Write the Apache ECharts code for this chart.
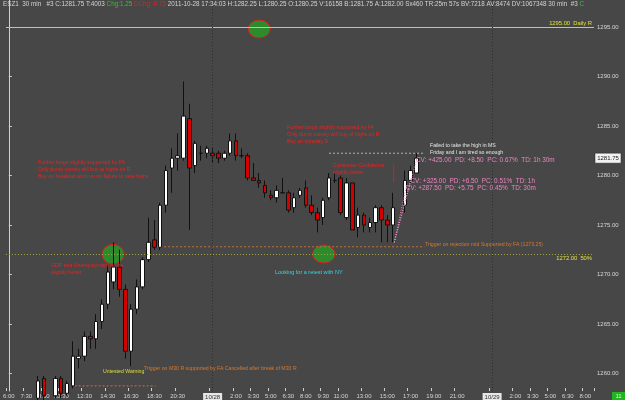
<!DOCTYPE html>
<html><head><meta charset="utf-8">
<script src="https://cdn.jsdelivr.net/npm/echarts@6/dist/echarts.min.js"></script>
<style>html,body{margin:0;padding:0;background:#474747;}#c{width:625px;height:400px;}</style>
</head><body><div id="c"></div>
<script>
// ---- categories (30 min slots) ----
const categories = [];
function pushDay(d, fromMin, toMin){ for(let m=fromMin;m<=toMin;m+=30){ categories.push(d+' '+Math.floor(m/60)+':'+(m%60===0?'00':'30')); } }
pushDay('10/27', 360, 1380);
pushDay('10/28', 0, 1410);
pushDay('10/29', 0, 510);

const tickLabels = ['10/27 6:00','10/27 7:30','10/27 9:00','10/27 10:30','10/27 12:30','10/27 14:30','10/27 16:30','10/27 18:30','10/27 20:30',
 '10/28 0:00','10/28 2:00','10/28 3:30','10/28 5:00','10/28 6:30','10/28 8:00','10/28 9:30','10/28 11:00','10/28 13:00','10/28 15:00','10/28 17:00','10/28 19:00','10/28 21:00',
 '10/29 0:00','10/29 2:00','10/29 3:30','10/29 5:00','10/29 6:30','10/29 8:00'];
const priceTicks = [1260,1265,1270,1275,1280,1285,1290,1295];

// ---- OHLC (index = slot) ----
const openP  = [null,null,null,null,null,1257.5,1259.5,null,1257.75,1259.5,1258,1258.75,1261.5,1261.75,1263.75,1263.5,1265.25,1267,1269.25,1270.75,1268.5,1262.25,1266.5,1268.75,1271.5,1273.5,1272.75,1277,1280.75,1281.75,1281.75,1285.75,1281,1282.25,1282.25,1282.25,1282.25,1281.75,1282.25,1283.5,1282,1282,1279.75,1279.5,1279,1278,1277.75,1278.25,1278.25,1276.75,1278,1278.75,1277,1276.25,1275.75,1277.75,1279.5,1279.75,1275.75,1279.25,1274.75,1276,1274.75,1275.25,1276.75,1275.5,1275,null,1277,1279.5,1280.25];
const highP  = [null,null,null,null,null,1259.75,1259.75,null,1259.75,1259.75,1259.25,1263.25,1262.5,1264.25,1264.25,1266,1267.5,1271,1273.25,1272.5,1269,1267,1269.5,1271.75,1275.75,1275.5,1277.25,1281,1282.75,1284.25,1289.5,1287.25,1283.5,1283,1283,1282.75,1282.5,1282.5,1284.25,1284.25,1282.75,1282.25,1281.25,1280.25,1279.5,1278.5,1279,1279.75,1278.5,1278.25,1278.75,1279.5,1278,1276.75,1277.75,1280.25,1280.25,1280,1279.75,1279.25,1276.75,1276.25,1275.75,1277,1277,1276,1278.25,null,1280.5,1281,1282.25];
const lowP   = [null,null,null,null,null,1257,1257,null,1257.5,1257.5,1257.75,1258.5,1260.5,1261.25,1262.5,1262.5,1264.5,1266.5,1268.5,1267.75,1261.5,1260.75,1266,1268.5,1271.25,1272.5,1272.5,1276.25,1278.25,1280.5,1281.5,1274.5,1280.25,1281.5,1281.75,1281.25,1281.25,1281.5,1282,1281.5,1281.75,1279.5,1279.5,1278.75,1277.75,1277.5,1277.25,1278.25,1276.25,1276.25,1277.75,1276.75,1276,1274.25,1275,1277.5,1279.25,1276,1275.5,1274.5,1273.75,1274.25,1274.25,1274.25,1273.25,1273.25,1273.25,null,1276.25,1279.25,1280.25];
const closeP = [null,null,null,null,null,1259.25,1257.75,null,1259.5,1258,1259,1261.75,1261.75,1263.75,1263.5,1265.25,1267,1270.25,1270.75,1268.5,1262.25,1266.5,1268.75,1271.5,1273.25,1272.75,1277,1280.5,1281.75,1282,1286,1280.75,1283.25,1282.25,1282.75,1282,1281.75,1282.25,1283.5,1282,1282,1279.75,1279.5,1279.25,1278.25,1277.75,1278.5,1278.25,1276.5,1277.75,1278.5,1277,1276.25,1275.5,1277.5,1279.75,1279.5,1276.25,1279.25,1274.5,1276,1275,1275.25,1276.75,1275.5,1275,1276.75,null,1279.5,1280.5,1281.75];

// ---- drawn levels / objects (data space: slot, price) ----
const dailyR = 1295, midLevel = 1272;
const triggerMid = [[25.3,1272.8],[71.4,1272.8]];
const triggerM30 = [[11.3,1258.75],[25.2,1258.75]];
const highLine = [[55,1282.25],[71.4,1282.25]];
const fanFrom = [66.2,1273.25];
const fanTo = [[68.3,1279.0],[69.1,1279.75],[70.1,1281.75]];
const redMark = [[66.1,1281.1],[66.1,1279.35]];
const ellipses = [[43,1294.8,11,9],[17.9,1272.05,11,9.8],[54.1,1272.07,11.3,9]];

const FONT = '"Liberation Sans", Arial, sans-serif';
const chart = echarts.init(document.getElementById('c'));
const candleData = openP.map((o,i)=> o==null ? '-' : [o, closeP[i], lowP[i], highP[i]]);
const showSet = new Set(tickLabels);
const YMIN = 1295 - 364/9.9, YMAX = 1295 + 27/9.9;

function seg(data, color, type, z){
  return {type:'line', xAxisIndex:1, yAxisIndex:0, data:data, symbol:'none', silent:true, animation:false, z:z||3,
    lineStyle:{color:color, width:1, type:type}};
}
const series = [{
  type:'candlestick', data:candleData, barWidth:4, animation:false, z:4,
  itemStyle:{color:'#ffffff', color0:'#d40000', borderColor:'#111111', borderColor0:'#111111', borderWidth:1},
  markLine:{symbol:'none', silent:true, animation:false, label:{show:false},
    data:[
      {yAxis:dailyR, lineStyle:{color:'#d2d22e', type:'solid', width:1}},
      {yAxis:midLevel, lineStyle:{color:'#a8a848', type:[1,2], width:1}},
      {xAxis:categories[35], lineStyle:{color:'#2e2e2e', type:[1,2], width:1}},
      {xAxis:categories[83], lineStyle:{color:'#2e2e2e', type:[1,2], width:1}}
    ]}
},
 seg(triggerMid,'#c8703a',[2,2]),
 seg(triggerM30,'#c8703a',[2,2]),
 seg(highLine,'#b4b4b4',[2,2]),
 seg(redMark,'#e01c1c','solid',5)
];
fanTo.forEach(p=>series.push(seg([fanFrom,p],'#e68cc4',[1,1.5],5)));

chart.setOption({
  backgroundColor:'#474747',
  animation:false,
  grid:{left:3, right:31, top:0, bottom:9},
  xAxis:[{type:'category', data:categories, boundaryGap:true,
    axisLine:{show:false},
    axisTick:{show:true, interval:(i,v)=>showSet.has(v), length:3, inside:true, lineStyle:{color:'#cfcfcf'}},
    axisLabel:{interval:(i,v)=>showSet.has(v), fontSize:6, fontFamily:FONT, color:'#d6d6d6', margin:2,
      formatter:v=>{const t=v.split(' '); return t[1]==='0:00' ? '{d|'+t[0]+'}' : t[1];},
      rich:{d:{backgroundColor:'#e6e6e6', color:'#333333', fontSize:6, fontFamily:FONT, padding:[1,2,0,2]}}},
    splitLine:{show:false}},
   {type:'value', min:-0.5, max:100.5, show:false}],
  yAxis:{type:'value', position:'right', min:YMIN, max:YMAX, scale:true,
    axisLine:{show:true, lineStyle:{color:'#d0d0d0'}},
    axisTick:{show:true, length:3, customValues:priceTicks, lineStyle:{color:'#d0d0d0'}},
    axisLabel:{customValues:priceTicks, fontSize:6, fontFamily:FONT, color:'#d6d6d6', margin:3, formatter:v=>v.toFixed(2)},
    splitLine:{show:false}},
  series:series
});

function px(v,p){ return chart.convertToPixel({xAxisIndex:1, yAxisIndex:0},[v,p]); }
const g = [];
ellipses.forEach(e=>{ const c=px(e[0],e[1]); g.push({type:'ellipse', z:1, shape:{cx:c[0],cy:c[1],rx:e[2],ry:e[3]}, style:{fill:'#2d8a2d', stroke:'#e01818', lineWidth:1}}); });
function txt(x,y,lines,size,color,lh,align){
  g.push({type:'text', z:20, style:{x:x, y:y, text:lines.join('\n'), fill:color, fontSize:size, fontFamily:FONT, lineHeight:lh||7, textAlign:align||'left', textVerticalAlign:'top'}});
}
// header
g.push({type:'text', z:20, style:{x:3, y:4, textVerticalAlign:'middle', fontSize:6.3, fontFamily:FONT, fill:'#d4d4d4',
  text:'{a|ESZ1  30 min   #3 C:1281.75 T:4003 }{g|Chg:1.25} {r|DChg:-0.75}{a| 2011-10-28 17:34:03 H:1282.25 L:1280.25 O:1280.25 V:16158 B:1281.75 A:1282.00 Sx460 TR:25m 57s BV:7218 AV:8474 DV:1067348 30 min  #3 }{g|C}',
  rich:{a:{fill:'#d4d4d4', fontSize:6.3, fontFamily:FONT}, g:{fill:'#2ec42e', fontSize:6.3, fontFamily:FONT}, r:{fill:'#e02020', fontSize:6.3, fontFamily:FONT}}}});
const RED='#ec2222';
txt(38,159.5,['Further longs slightly supported by FA','Only dumb money will buy at highs on R','Buy on breakout and run on failure to take highs'],5.2,RED);
txt(51,262.5,['GDP and Unemployment is line','slightly better'],5.2,RED);
txt(287,124.5,['Further longs slightly supported by FA','Only dumb money will buy of highs on R','Buy on intraday S'],5.2,RED);
txt(333,162.5,['Consumer Confidence','slightly better'],5.2,RED);
txt(275,269,['Looking for a retest with NY'],5.5,'#33d6e6');
txt(430,142.5,['Failed to take the high in MS','Friday and I am tired so enough'],5.2,'#e6e6e6');
txt(416,157,['CV: +425.00  PD: +8.50  PC: 0.67%  TD: 1h 30m'],6.4,'#ea86c2');
txt(410.5,177.5,['CV: +325.00  PD: +6.50  PC: 0.51%  TD: 1h'],6.4,'#ea86c2');
txt(406,185,['CV: +287.50  PD: +5.75  PC: 0.45%  TD: 30m'],6.4,'#ea86c2');
txt(425,241.5,['Trigger on rejection mid Supported by FA (1273.25)'],5.2,'#d8782e');
txt(103,368.5,['Untested Warning'],5.2,'#dede3c');
txt(144,365.5,['Trigger on M30 R supported by FA Cancelled after break of M30 R'],5.2,'#d8782e');
txt(592,19.5,['1295.00  Daily R'],5.8,'#e0e03c',7,'right');
txt(592,255,['1272.00  50%'],5.8,'#e0e03c',7,'right');
// current price box
const cp = px(70, closeP[70]);
g.push({type:'rect', z:20, shape:{x:595, y:cp[1]-5, width:26, height:10}, style:{fill:'#f2f2f2', stroke:'#222', lineWidth:0.5}});
g.push({type:'text', z:21, style:{x:608, y:cp[1], text:closeP[70].toFixed(2), fill:'#222', fontSize:6, fontFamily:FONT, textAlign:'center', textVerticalAlign:'middle'}});
// bars-remaining box
g.push({type:'rect', z:20, shape:{x:612, y:392, width:13, height:8}, style:{fill:'#1fb51f'}});
g.push({type:'text', z:21, style:{x:618.5, y:396, text:'11', fill:'#f0f0f0', fontSize:6, fontFamily:FONT, textAlign:'center', textVerticalAlign:'middle'}});
chart.setOption({graphic:{elements:g}});
</script></body></html>
